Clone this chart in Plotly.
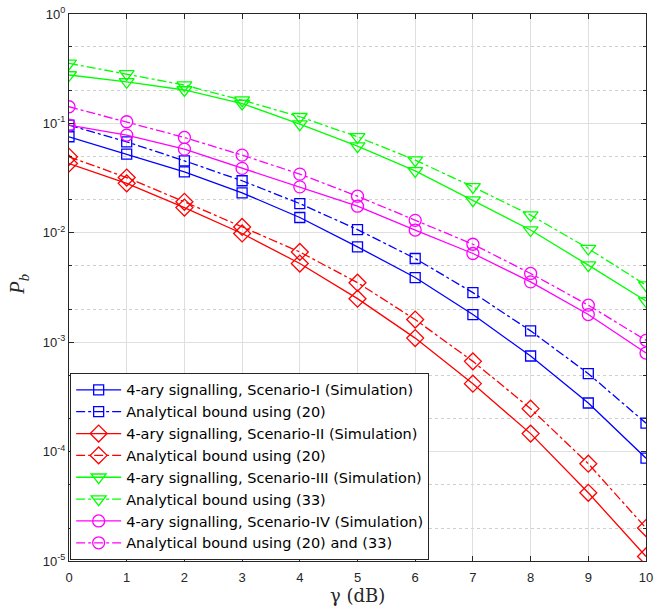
import plotly.graph_objects as go

gamma_db = [0, 1, 2, 3, 4, 5, 6, 7, 8, 9, 10]

s1_sim = [0.0755, 0.0524, 0.0361, 0.0232, 0.0138, 0.00744, 0.0039, 0.00179, 7.48e-4, 2.78e-4, 8.7e-5]
s1_bound = [0.0965, 0.0679, 0.0455, 0.0299, 0.0185, 0.0107, 0.00582, 0.00284, 1.27e-3, 5.16e-4, 1.82e-4]
s2_sim = [0.043, 0.0283, 0.017, 0.00986, 0.00524, 0.0025, 0.00109, 4.18e-4, 1.46e-4, 4.2e-5, 1.1e-5]
s2_bound = [0.0495, 0.032, 0.0192, 0.0113, 0.00668, 0.0035, 0.00161, 6.68e-4, 2.47e-4, 7.75e-5, 2.0e-5]
s3_sim = [0.277, 0.240, 0.202, 0.152, 0.0986, 0.062, 0.0368, 0.0199, 0.0106, 0.00506, 0.00238]
s3_bound = [0.354, 0.283, 0.224, 0.163, 0.115, 0.0754, 0.0462, 0.0263, 0.0145, 0.00718, 0.00332]
s4_sim = [0.0965, 0.0782, 0.0582, 0.0388, 0.0263, 0.0175, 0.0106, 0.00647, 0.00356, 0.00179, 7.96e-4]
s4_bound = [0.142, 0.1035, 0.0744, 0.0513, 0.0344, 0.0216, 0.0130, 0.00786, 0.00425, 0.00218, 0.00104]

y_tickvals = [1e-5, 1e-4, 1e-3, 1e-2, 1e-1, 1]
y_ticktext = ["10<sup>-5</sup>", "10<sup>-4</sup>", "10<sup>-3</sup>", "10<sup>-2</sup>", "10<sup>-1</sup>", "10<sup>0</sup>"]

series = [
    ("4-ary signalling, Scenario-I (Simulation)", s1_sim, "#0000FF", "solid", "square-open", 10),
    ("Analytical bound using (20)", s1_bound, "#0000FF", "dashdot", "square-open", 10),
    ("4-ary signalling, Scenario-II (Simulation)", s2_sim, "#FF0000", "solid", "diamond-open", 13),
    ("Analytical bound using (20)", s2_bound, "#FF0000", "dashdot", "diamond-open", 13),
    ("4-ary signalling, Scenario-III (Simulation)", s3_sim, "#00FF00", "solid", "triangle-down-open", 13),
    ("Analytical bound using (33)", s3_bound, "#00FF00", "dashdot", "triangle-down-open", 13),
    ("4-ary signalling, Scenario-IV (Simulation)", s4_sim, "#FF00FF", "solid", "circle-open", 12),
    ("Analytical bound using (20) and (33)", s4_bound, "#FF00FF", "dashdot", "circle-open", 12),
]

fig = go.Figure()
for name, ys, color, dash, sym, size in series:
    fig.add_trace(go.Scatter(
        x=gamma_db, y=ys, name=name, mode="lines+markers",
        line=dict(color=color, width=1.3, dash=dash),
        marker=dict(symbol=sym, size=size, color=color, line=dict(width=1.3, color=color)),
    ))

axis_common = dict(
    showline=True, linecolor="#262626", linewidth=1, mirror="ticks",
    ticks="inside", ticklen=5, tickcolor="#262626",
    tickfont=dict(family="Liberation Sans, Arial", size=13, color="#262626"),
    zeroline=False, automargin=False,
)

fig.update_xaxes(
    range=[0, 10], dtick=1, tick0=0,
    showgrid=True, gridcolor="#DFDFDF", gridwidth=1,
    ticklabelstandoff=4,
    **axis_common,
)
fig.update_yaxes(
    type="log", range=[-5, 0],
    tickvals=y_tickvals, ticktext=y_ticktext,
    showgrid=True, gridcolor="#DFDFDF", gridwidth=1,
    minor=dict(ticks="inside", ticklen=3, tickcolor="#262626", showgrid=True,
               gridcolor="#D0D0D0", griddash="dot", gridwidth=1),
    **axis_common,
)

fig.add_annotation(
    text="γ (dB)", xref="paper", yref="paper", x=0.5, y=-0.063,
    xanchor="center", yanchor="middle", showarrow=False,
    font=dict(family="DejaVu Serif, Liberation Serif, serif", size=18, color="#262626"),
)
fig.add_annotation(
    text="<i>P</i><sub><i>b</i></sub>", xref="paper", yref="paper", x=-0.088, y=0.505,
    xanchor="center", yanchor="middle", showarrow=False, textangle=-90,
    font=dict(family="Liberation Serif, DejaVu Serif, serif", size=21, color="#262626"),
)

fig.update_layout(
    template="none",
    width=655, height=608,
    margin=dict(l=69, r=9, t=14, b=47),
    paper_bgcolor="white", plot_bgcolor="white",
    showlegend=True,
    legend=dict(
        x=0.002, y=0.002, xanchor="left", yanchor="bottom",
        bgcolor="white", bordercolor="#262626", borderwidth=1,
        font=dict(family="DejaVu Sans, Liberation Sans", size=14.5, color="black"),
        tracegroupgap=0, itemwidth=45,
    ),
)

fig.write_html(
    "out.html",
    config={"displayModeBar": False},
    post_script="document.body.style.margin='0';document.body.style.overflow='hidden';",
)
